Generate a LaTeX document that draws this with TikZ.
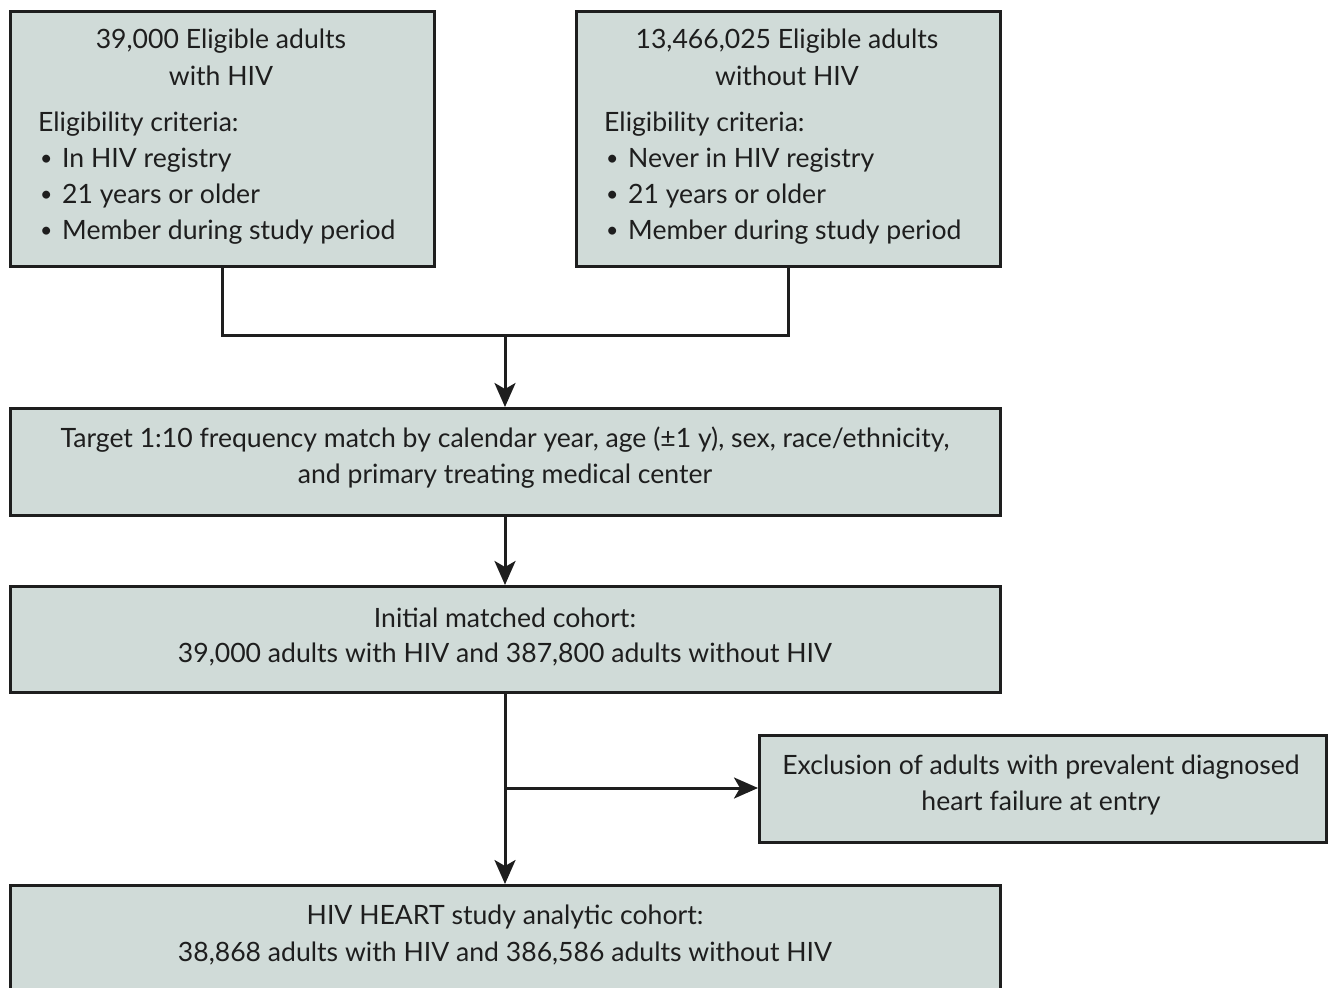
\documentclass[tikz,border=0pt]{standalone}
\usepackage{fontspec}
\setmainfont{Lato}
\usetikzlibrary{arrows.meta,calc}
\definecolor{boxfill}{RGB}{208,219,216}
\definecolor{boxline}{RGB}{30,30,30}
\newcommand{\bul}{\makebox[22pt][l]{\raisebox{2pt}{\scalebox{0.8}{•}}}}
\tikzset{
  x=1pt,y=-1pt,
  box/.style={draw=boxline,fill=boxfill,line width=2.6pt,inner sep=0pt,anchor=north west},
  txt/.style={inner sep=0pt,font=\fontsize{26.6}{32}\selectfont,text=boxline},
  conn/.style={draw=boxline,line width=3pt},
  arr/.style={conn,-{Stealth[length=24pt,width=21pt,inset=6pt]}}
}
\begin{document}
\begin{tikzpicture}
\useasboundingbox (0,0) rectangle (1331,988);
% boxes
\node[box,minimum width=424pt,minimum height=255pt] (b1) at (9,10) {};
\node[box,minimum width=424pt,minimum height=255pt] (b2) at (575,10) {};
\node[box,minimum width=990pt,minimum height=107pt] (b3) at (9,407) {};
\node[box,minimum width=990pt,minimum height=106pt] (b4) at (9,585) {};
\node[box,minimum width=567pt,minimum height=107pt] (b5) at (758,734) {};
\node[box,minimum width=990pt,minimum height=130pt] (b6) at (9,884) {};
% box 1 text
\node[txt] (t11) at (221,41) {39,000 Eligible adults};
\node[txt] (t12) at (221,76) {with HIV};
\node[txt,anchor=west] (t13) at (38,124) {Eligibility criteria:};
\node[txt,anchor=west] (t14) at (40,160) {\bul In HIV registry};
\node[txt,anchor=west] (t15) at (40,196) {\bul 21 years or older};
\node[txt,anchor=west] (t16) at (40,232) {\bul Member during study period};
% box 2 text
\node[txt] (t21) at (787,41) {13,466,025 Eligible adults};
\node[txt] (t22) at (787,76) {without HIV};
\node[txt,anchor=west] (t23) at (604,124) {Eligibility criteria:};
\node[txt,anchor=west] (t24) at (606,160) {\bul Never in HIV registry};
\node[txt,anchor=west] (t25) at (606,196) {\bul 21 years or older};
\node[txt,anchor=west] (t26) at (606,232) {\bul Member during study period};
% box 3
\node[txt] (t31) at (505,440) {Target 1:10 frequency match by calendar year, age (±1 y), sex, race/ethnicity,};
\node[txt] (t32) at (505,476) {and primary treating medical center};
% box 4
\node[txt] (t41) at (505,618) {Initial matched cohort:};
\node[txt] (t42) at (505,654) {39,000 adults with HIV and 387,800 adults without HIV};
% box 5
\node[txt] (t51) at (1041,767) {Exclusion of adults with prevalent diagnosed};
\node[txt] (t52) at (1041,803) {heart failure at entry};
% box 6
\node[txt] (t61) at (505,917) {HIV HEART study analytic cohort:};
\node[txt] (t62) at (505,953) {38,868 adults with HIV and 386,586 adults without HIV};
% connectors
\coordinate (j1) at (505,335);
\coordinate (j2) at (505,788);
\draw[conn,line join=miter] (b1.south) |- (j1) -| (b2.south);
\draw[arr] (j1) -- (b3.north -| j1);
\draw[arr] (b3.south -| j1) -- (b4.north -| j1);
\draw[arr] (b4.south -| j1) -- (b6.north -| j1);
\draw[arr] (j2) -- (b5.west |- j2);
\end{tikzpicture}
\end{document}
